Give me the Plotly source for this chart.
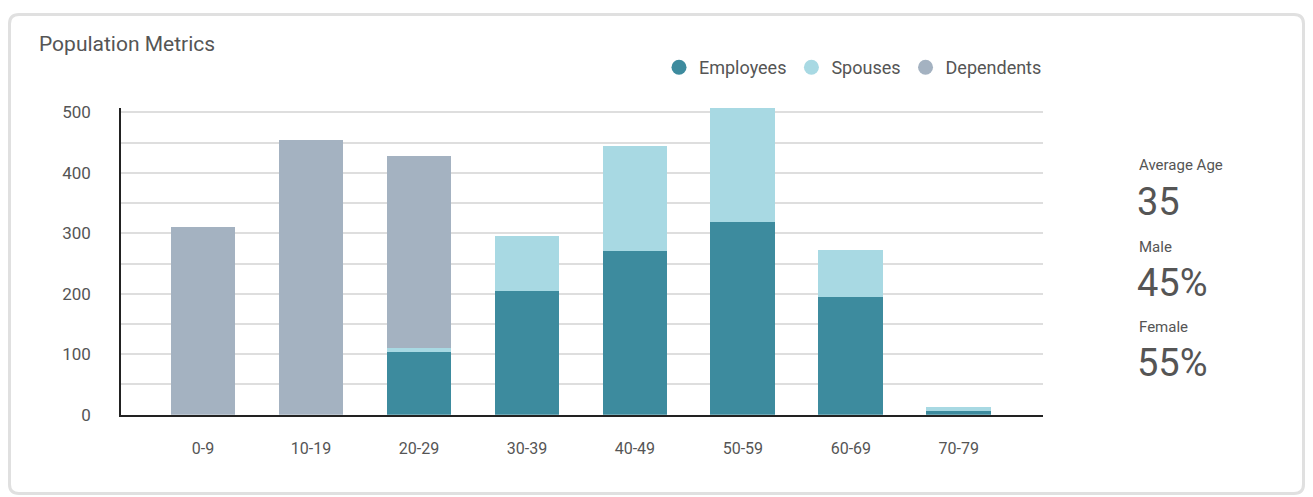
import plotly.graph_objects as go

categories = ["0-9", "10-19", "20-29", "30-39", "40-49", "50-59", "60-69", "70-79"]
employees = [0, 0, 103, 205, 271, 318, 195, 6]
spouses = [0, 0, 7, 90, 173, 189, 77, 7]
dependents = [311, 454, 318, 0, 0, 0, 0, 0]

series_names = ["Employees", "Spouses", "Dependents"]
colors = ["#3d8b9e", "#a8d9e3", "#a4b2c1"]
stats_labels = ["Average Age", "Male", "Female"]
stats_values = ["35", "45%", "55%"]

# empirical mapping from figure pixels to the photographed page
OX = 8
OY, SY = 11.5, 0.9695
W, H = 1297, 497
FONT = "Roboto"
TXT = "#555555"

def fx(x):
    return (x - OX) / W

def fy(y):
    return 1 - ((y - OY) / SY) / H

fig = go.Figure()
for name, vals, col in zip(series_names, [employees, spouses, dependents], colors):
    fig.add_trace(go.Bar(x=categories, y=vals, name=name, marker=dict(color=col, line=dict(width=0)),
                         showlegend=False))
for name, col in zip(series_names, colors):
    fig.add_trace(go.Scatter(x=[None], y=[None], mode="markers", name=name,
                             marker=dict(symbol="circle", size=15, color=col)))

fig.update_layout(
    width=W, height=H,
    margin=dict(l=0, r=0, t=0, b=0),
    paper_bgcolor="white", plot_bgcolor="white",
    barmode="stack", bargap=0.4,
    font=dict(family=FONT, color=TXT),
    showlegend=True,
    legend=dict(orientation="h", traceorder="normal", x=fx(1047), xanchor="right",
                y=fy(66), yanchor="middle",
                font=dict(size=18, color=TXT), bgcolor="rgba(0,0,0,0)"),
    xaxis=dict(domain=[fx(121), fx(1043)], range=[-0.76, 7.78], showgrid=False,
               showline=True, linecolor="#222222", linewidth=1.5, ticks="",
               tickfont=dict(size=16, color=TXT), ticklabelstandoff=18, fixedrange=True),
    yaxis=dict(domain=[fy(413), fy(106)], range=[0, 508], dtick=100, tick0=0,
               showgrid=True, gridcolor="#dedede", gridwidth=2,
               minor=dict(dtick=50, showgrid=True, gridcolor="#dedede", gridwidth=2),
               showline=True, linecolor="#222222", linewidth=1.5, ticks="",
               zeroline=False, tickfont=dict(size=17, color=TXT), ticklabelstandoff=25,
               fixedrange=True),
    shapes=[dict(type="path", xref="paper", yref="paper",
                 path=("M {a},{b} L {c},{b} Q {d},{b} {d},{e} L {d},{f} Q {d},{g} {c},{g} "
                       "L {a},{g} Q {h},{g} {h},{f} L {h},{e} Q {h},{b} {a},{b} Z").format(
                     h=1.5 / W, a=11 / W, c=(W - 11) / W, d=(W - 1.5) / W,
                     b=1 - 1.5 / H, e=1 - 11 / H, f=11 / H, g=1.5 / H),
                 line=dict(color="#e0e0e0", width=3), fillcolor="rgba(0,0,0,0)", layer="below")],
)

annotations = [dict(text="Population Metrics", x=fx(37), y=fy(42), xref="paper", yref="paper",
                    xanchor="left", yanchor="middle", showarrow=False,
                    font=dict(size=21, color=TXT, family=FONT))]
label_y = [163, 245, 325]
value_y = [200, 281, 361]
for lab, val, ly, vy in zip(stats_labels, stats_values, label_y, value_y):
    annotations.append(dict(text=lab, x=fx(1137), y=fy(ly), xref="paper", yref="paper",
                            xanchor="left", yanchor="middle", showarrow=False,
                            font=dict(size=15, color=TXT, family=FONT)))
    annotations.append(dict(text=val, x=fx(1135), y=fy(vy), xref="paper", yref="paper",
                            xanchor="left", yanchor="middle", showarrow=False,
                            font=dict(size=38, color=TXT, family=FONT)))
fig.update_layout(annotations=annotations)

fig.write_html("out.html")
